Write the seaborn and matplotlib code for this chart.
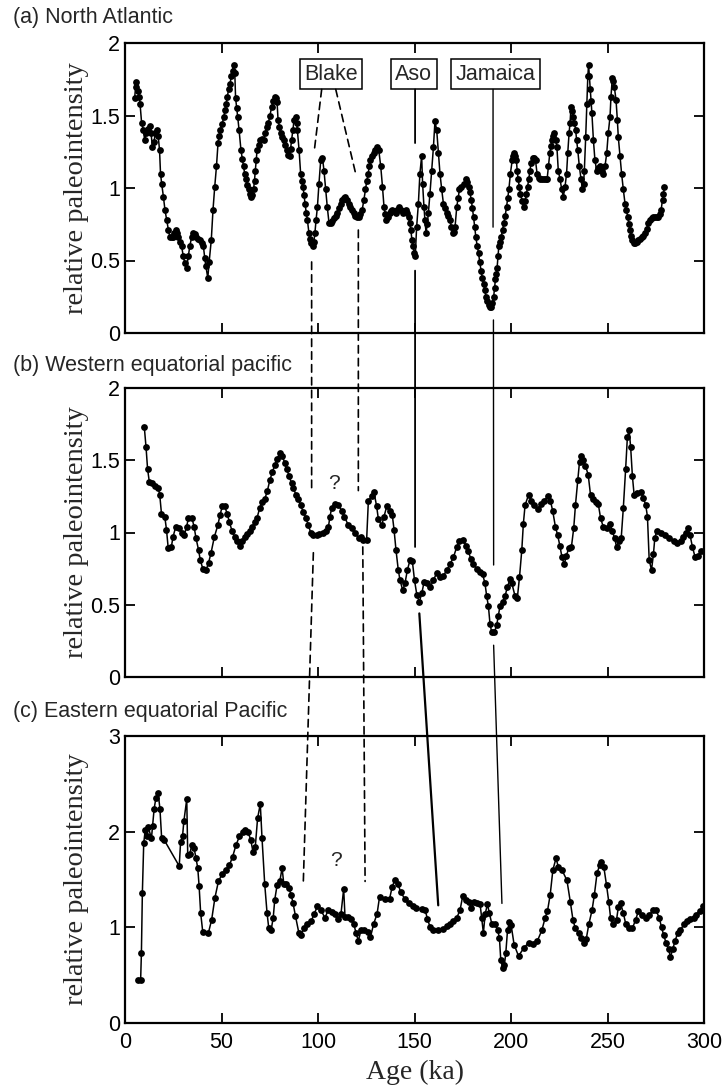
import numpy as np
import pandas as pd
import matplotlib
matplotlib.use("Agg")
import matplotlib.pyplot as plt
from matplotlib.patches import ConnectionPatch
import seaborn as sns

# ---------------- data ----------------
age_a = [5.0, 5.5, 5.9, 6.6, 7.3, 7.8, 8.6, 9.5, 10.2, 11.0, 11.9, 12.7, 13.5, 14.2, 15.0, 15.8, 16.5, 17.2, 17.9, 18.4,
         19.0, 19.9, 20.7, 21.6, 22.5, 23.3, 24.2, 25.0, 25.6, 26.2, 26.9, 27.6, 28.5, 29.3, 30.2, 31.0, 31.9, 32.8, 33.6, 34.5,
         35.4, 36.2, 37.0, 38.0, 38.9, 39.8, 40.6, 41.3, 41.9, 42.9, 43.6, 44.7, 45.6, 46.5, 47.4, 48.2, 48.8, 49.4, 50.3, 51.2,
         51.8, 52.4, 53.0, 53.7, 54.4, 55.1, 55.7, 56.3, 56.9, 57.3, 57.9, 58.4, 59.1, 60.1, 60.8, 61.4, 62.0, 62.7, 63.4, 64.0,
         64.7, 65.4, 66.0, 66.6, 67.1, 67.5, 68.0, 68.4, 69.3, 70.2, 71.0, 71.8, 72.7, 73.5, 74.3, 75.1, 76.0, 76.8, 77.7, 78.3,
         78.8, 79.3, 80.0, 80.6, 81.4, 82.3, 83.1, 84.0, 84.6, 85.3, 85.8, 86.3, 87.0, 87.6, 88.4, 88.9, 89.3, 90.2, 91.0, 91.6,
         92.2, 92.8, 93.3, 93.9, 94.5, 95.3, 95.9, 96.5, 97.4, 97.9, 98.4, 99.0, 99.7, 100.5, 101.4, 102.3, 103.1, 104.0, 104.8, 105.7,
         106.5, 107.4, 108.3, 109.1, 110.0, 110.8, 111.7, 112.5, 113.4, 114.2, 115.1, 116.0, 116.8, 117.7, 118.6, 119.4, 120.3, 121.2, 122.0, 122.9,
         123.8, 124.6, 125.3, 126.0, 126.6, 127.2, 128.0, 128.9, 129.7, 130.6, 131.5, 132.5, 133.4, 134.2, 134.8, 135.4, 136.3, 137.2, 138.0, 138.6,
         139.5, 140.3, 141.1, 142.0, 142.9, 143.8, 144.6, 145.5, 146.2, 146.9, 147.5, 148.1, 148.7, 149.3, 149.9, 150.4, 151.1, 152.0, 152.8, 153.7,
         154.2, 154.9, 155.4, 156.0, 156.6, 157.2, 158.0, 158.9, 159.8, 160.6, 161.5, 162.4, 163.2, 164.1, 165.0, 165.8, 166.7, 167.5, 168.4, 169.1,
         169.8, 170.4, 171.0, 171.9, 172.6, 173.3, 174.3, 175.4, 176.7, 177.4, 178.0, 178.7, 179.4, 180.0, 180.6, 181.2, 181.8, 182.5, 183.2, 183.8,
         184.5, 185.1, 185.8, 186.4, 187.0, 187.7, 188.4, 189.1, 189.8, 190.4, 191.0, 191.5, 191.9, 192.4, 192.8, 193.3, 193.7, 194.3, 194.9, 195.6,
         196.3, 197.0, 197.7, 198.3, 198.9, 199.7, 200.6, 201.2, 201.8, 202.3, 202.8, 203.2, 203.7, 204.3, 204.9, 205.8, 206.6, 207.3, 208.0, 208.6,
         209.2, 209.8, 210.4, 211.4, 212.1, 212.7, 213.5, 214.4, 215.2, 216.1, 217.0, 217.9, 218.7, 219.4, 220.1, 220.7, 221.3, 222.0, 222.5, 223.2,
         223.8, 224.5, 225.4, 226.3, 227.1, 228.0, 228.8, 229.4, 230.1, 230.6, 231.1, 231.7, 232.3, 232.9, 233.5, 234.0, 234.6, 235.4, 236.3, 237.0,
         237.6, 238.0, 238.7, 239.3, 239.8, 240.2, 240.6, 241.1, 241.5, 241.9, 242.7, 243.5, 244.4, 245.2, 246.1, 247.0, 247.8, 248.7, 249.6, 250.4,
         251.3, 251.8, 252.5, 253.0, 253.5, 254.4, 255.1, 255.6, 256.5, 257.3, 258.2, 259.1, 259.8, 260.5, 261.1, 261.7, 262.3, 262.9, 263.6, 264.3,
         265.1, 266.0, 266.9, 267.8, 268.6, 269.5, 270.3, 271.2, 272.1, 273.0, 273.8, 274.7, 275.5, 276.4, 277.1, 277.8, 278.5, 279.0, 279.5]
int_a = [1.62, 1.70, 1.73, 1.67, 1.63, 1.58, 1.45, 1.40, 1.33, 1.38, 1.41, 1.43, 1.38, 1.28, 1.32, 1.38, 1.40, 1.36, 1.26, 1.10,
         1.03, 0.94, 0.85, 0.78, 0.71, 0.66, 0.66, 0.66, 0.69, 0.71, 0.69, 0.66, 0.63, 0.60, 0.53, 0.48, 0.45, 0.53, 0.60, 0.66,
         0.69, 0.68, 0.66, 0.65, 0.64, 0.62, 0.60, 0.52, 0.46, 0.38, 0.49, 0.64, 0.85, 1.01, 1.15, 1.31, 1.36, 1.40, 1.44, 1.49,
         1.54, 1.58, 1.63, 1.68, 1.72, 1.77, 1.81, 1.85, 1.79, 1.62, 1.55, 1.49, 1.40, 1.26, 1.20, 1.15, 1.10, 1.06, 1.02, 0.99,
         0.96, 0.94, 0.95, 0.99, 1.05, 1.12, 1.19, 1.26, 1.30, 1.33, 1.34, 1.33, 1.38, 1.42, 1.45, 1.50, 1.56, 1.60, 1.63, 1.62,
         1.59, 1.47, 1.42, 1.38, 1.35, 1.33, 1.30, 1.26, 1.23, 1.22, 1.27, 1.33, 1.40, 1.47, 1.49, 1.45, 1.40, 1.26, 1.10, 1.05,
         1.01, 0.95, 0.89, 0.83, 0.78, 0.69, 0.65, 0.62, 0.60, 0.63, 0.69, 0.78, 0.87, 1.03, 1.19, 1.21, 1.12, 0.99, 0.87, 0.76,
         0.76, 0.77, 0.79, 0.81, 0.83, 0.86, 0.89, 0.92, 0.93, 0.94, 0.92, 0.89, 0.87, 0.85, 0.83, 0.81, 0.80, 0.80, 0.82, 0.85,
         0.92, 0.99, 1.05, 1.10, 1.15, 1.19, 1.22, 1.24, 1.26, 1.28, 1.26, 1.15, 1.01, 0.87, 0.82, 0.78, 0.80, 0.83, 0.84, 0.85,
         0.84, 0.83, 0.85, 0.87, 0.85, 0.83, 0.84, 0.85, 0.83, 0.80, 0.76, 0.71, 0.64, 0.60, 0.55, 0.53, 0.73, 0.89, 1.10, 1.22,
         1.03, 0.87, 0.78, 0.69, 0.75, 0.83, 0.96, 1.12, 1.28, 1.46, 1.40, 1.24, 1.10, 0.99, 0.89, 0.86, 0.83, 0.81, 0.78, 0.73,
         0.69, 0.70, 0.73, 0.87, 0.93, 0.99, 1.01, 1.03, 1.06, 1.04, 1.01, 0.97, 0.92, 0.86, 0.80, 0.73, 0.66, 0.60, 0.55, 0.49,
         0.43, 0.38, 0.34, 0.30, 0.25, 0.22, 0.19, 0.18, 0.18, 0.21, 0.25, 0.31, 0.37, 0.41, 0.45, 0.53, 0.60, 0.63, 0.66, 0.71,
         0.76, 0.81, 0.87, 0.93, 0.99, 1.10, 1.19, 1.22, 1.24, 1.22, 1.19, 1.12, 1.06, 1.01, 0.96, 0.91, 0.87, 0.91, 0.96, 1.01,
         1.06, 1.12, 1.17, 1.21, 1.21, 1.19, 1.10, 1.07, 1.06, 1.06, 1.06, 1.06, 1.06, 1.15, 1.24, 1.29, 1.33, 1.36, 1.38, 1.33,
         1.28, 1.12, 1.06, 0.99, 0.94, 1.01, 1.10, 1.24, 1.38, 1.45, 1.56, 1.53, 1.49, 1.45, 1.40, 1.33, 1.26, 1.15, 1.06, 0.99,
         1.03, 1.12, 1.35, 1.58, 1.77, 1.85, 1.77, 1.68, 1.60, 1.52, 1.33, 1.19, 1.12, 1.14, 1.15, 1.12, 1.10, 1.15, 1.24, 1.38,
         1.49, 1.63, 1.76, 1.74, 1.70, 1.61, 1.47, 1.35, 1.22, 1.10, 0.99, 0.89, 0.85, 0.80, 0.75, 0.71, 0.67, 0.64, 0.62, 0.62,
         0.63, 0.64, 0.65, 0.66, 0.67, 0.69, 0.72, 0.76, 0.78, 0.79, 0.80, 0.80, 0.80, 0.80, 0.82, 0.85, 0.92, 0.96, 1.01]

age_b = [10.0, 10.9, 11.7, 12.6, 13.8, 15.5, 17.2, 18.0, 18.9, 20.6, 21.5, 22.4, 24.0, 24.9, 26.3, 27.8, 29.5, 30.7, 31.9, 32.9,
         34.7, 35.8, 36.8, 38.1, 39.0, 40.3, 42.0, 43.3, 44.6, 46.3, 48.1, 49.2, 50.4, 51.6, 53.0, 54.1, 55.5, 56.8, 58.0, 59.4,
         60.8, 62.0, 63.3, 64.6, 66.0, 67.2, 68.4, 69.8, 71.2, 72.4, 73.8, 75.0, 76.4, 77.7, 78.8, 80.3, 81.6, 82.8, 83.7, 85.1,
         86.3, 87.2, 88.6, 89.8, 91.0, 92.4, 93.8, 95.0, 96.2, 97.6, 99.3, 100.7, 102.4, 104.1, 105.4, 106.2, 107.1, 108.8, 110.6, 112.3,
         113.7, 115.7, 117.5, 119.2, 121.0, 122.3, 123.5, 125.2, 126.1, 127.8, 129.0, 130.4, 131.3, 133.0, 134.2, 135.6, 137.3, 138.5, 139.4, 140.4,
         141.6, 142.5, 143.9, 145.1, 146.3, 147.7, 148.9, 150.0, 151.2, 152.5, 153.8, 155.0, 156.3, 158.1, 159.8, 161.5, 163.3, 165.0, 166.7, 168.4,
         170.2, 171.9, 173.3, 175.0, 176.7, 177.9, 179.1, 180.5, 182.2, 183.9, 185.3, 186.5, 187.4, 188.3, 189.1, 190.0, 191.4, 192.6, 193.4, 194.3,
         195.7, 196.9, 198.1, 199.5, 200.4, 202.1, 203.3, 204.4, 205.6, 206.4, 207.3, 209.1, 210.5, 212.0, 213.9, 215.5, 217.2, 219.0, 220.4, 221.6,
         223.0, 224.2, 225.3, 226.4, 227.6, 228.7, 229.9, 231.3, 232.5, 233.4, 234.6, 235.5, 236.4, 237.4, 238.6, 240.0, 241.2, 242.4, 243.8, 245.2,
         246.4, 247.8, 249.5, 251.3, 252.5, 253.7, 254.7, 255.9, 257.1, 258.2, 259.4, 260.3, 261.2, 262.0, 262.9, 263.8, 265.5, 267.2, 268.6, 269.8,
         270.7, 271.6, 272.8, 273.8, 274.5, 275.5, 277.6, 279.7, 281.9, 284.2, 286.2, 287.9, 289.3, 290.5, 291.7, 292.8, 294.0, 295.4, 297.0, 298.4,
         300.0]
int_b = [1.73, 1.59, 1.44, 1.35, 1.34, 1.32, 1.31, 1.26, 1.13, 1.11, 1.02, 0.89, 0.90, 0.97, 1.04, 1.03, 1.00, 0.98, 1.04, 1.10,
         1.10, 1.04, 0.96, 0.88, 0.81, 0.75, 0.74, 0.79, 0.86, 0.97, 1.05, 1.12, 1.18, 1.18, 1.13, 1.07, 1.01, 0.97, 0.94, 0.91,
         0.94, 0.97, 0.99, 1.01, 1.04, 1.07, 1.10, 1.17, 1.21, 1.23, 1.29, 1.36, 1.42, 1.47, 1.51, 1.55, 1.53, 1.48, 1.44, 1.39,
         1.34, 1.31, 1.26, 1.23, 1.19, 1.14, 1.10, 1.05, 1.00, 0.98, 0.98, 0.99, 1.00, 1.01, 1.04, 1.11, 1.17, 1.20, 1.19, 1.15,
         1.11, 1.05, 1.03, 1.00, 0.96, 0.97, 0.95, 0.95, 1.22, 1.25, 1.28, 1.18, 1.09, 1.05, 1.11, 1.18, 1.15, 1.12, 1.02, 0.88,
         0.74, 0.67, 0.60, 0.65, 0.74, 0.81, 0.80, 0.67, 0.57, 0.52, 0.58, 0.66, 0.65, 0.62, 0.67, 0.72, 0.69, 0.70, 0.74, 0.78,
         0.83, 0.90, 0.94, 0.95, 0.91, 0.87, 0.82, 0.78, 0.75, 0.73, 0.71, 0.65, 0.56, 0.49, 0.37, 0.31, 0.31, 0.36, 0.42, 0.49,
         0.52, 0.56, 0.62, 0.68, 0.65, 0.56, 0.55, 0.69, 0.88, 1.06, 1.19, 1.26, 1.22, 1.19, 1.16, 1.20, 1.22, 1.25, 1.22, 1.15,
         1.04, 0.98, 0.91, 0.83, 0.78, 0.84, 0.89, 0.90, 1.03, 1.19, 1.36, 1.49, 1.53, 1.50, 1.46, 1.40, 1.26, 1.23, 1.21, 1.20,
         1.10, 1.04, 1.03, 1.06, 1.01, 0.96, 0.90, 0.94, 0.96, 1.17, 1.44, 1.66, 1.71, 1.59, 1.39, 1.26, 1.27, 1.28, 1.24, 1.19,
         1.11, 0.81, 0.74, 0.85, 0.96, 1.01, 1.00, 0.98, 0.96, 0.94, 0.93, 0.94, 0.97, 1.00, 1.03, 0.98, 0.90, 0.83, 0.84, 0.87,
         0.87]

age_c = [6.9, 8.1, 8.5, 9.0, 9.7, 10.5, 11.4, 12.0, 13.7, 14.3, 15.1, 16.0, 17.2, 18.1, 19.0, 20.4, 28.1, 28.8, 29.8, 30.5,
         32.0, 32.5, 33.7, 34.5, 35.8, 36.8, 37.7, 38.4, 39.2, 40.3, 43.2, 44.9, 46.6, 48.4, 50.4, 52.3, 54.1, 55.8, 57.5, 59.3,
         61.0, 62.3, 63.7, 65.2, 66.3, 67.5, 68.7, 70.1, 71.0, 72.4, 73.6, 74.5, 75.7, 76.8, 77.6, 78.8, 80.2, 81.4, 82.3, 83.5,
         84.9, 86.1, 87.1, 88.3, 90.1, 91.3, 92.7, 94.5, 96.6, 98.0, 99.7, 101.5, 103.6, 105.3, 107.1, 108.8, 110.2, 111.9, 113.3, 114.0,
         115.4, 117.1, 118.5, 119.7, 120.9, 122.3, 124.0, 125.8, 127.2, 128.9, 130.6, 131.9, 134.5, 137.1, 138.4, 139.7, 141.5, 142.8, 144.9, 147.0,
         149.2, 151.0, 153.7, 155.5, 156.7, 158.1, 159.8, 162.4, 165.0, 166.7, 168.4, 170.2, 171.9, 173.6, 175.0, 176.7, 178.4, 179.5, 180.9, 182.2,
         184.0, 184.8, 185.7, 186.6, 187.8, 188.8, 190.0, 191.8, 193.1, 194.0, 194.7, 195.8, 196.6, 197.3, 198.2, 199.2, 200.1, 201.6, 203.9, 206.5,
         209.1, 211.3, 213.7, 216.0, 217.7, 218.9, 220.3, 221.7, 223.3, 224.6, 226.4, 229.0, 230.7, 232.1, 233.3, 235.1, 236.3, 237.7, 239.0, 240.3,
         242.0, 243.2, 244.6, 246.0, 246.7, 248.1, 249.5, 250.7, 251.6, 252.9, 254.7, 255.6, 256.8, 258.2, 259.4, 261.1, 262.9, 264.6, 266.0, 267.8,
         269.8, 271.6, 273.8, 275.1, 276.8, 278.0, 279.1, 280.3, 281.7, 282.6, 283.8, 285.0, 286.4, 287.8, 289.5, 291.2, 293.0, 294.7, 295.9, 297.7,
         299.4]
int_c = [0.45, 0.45, 0.73, 1.36, 1.88, 2.02, 1.95, 2.05, 1.93, 2.06, 2.24, 2.35, 2.40, 2.24, 1.93, 1.91, 1.64, 1.89, 1.95, 2.11,
         2.34, 1.76, 1.77, 1.86, 1.83, 1.72, 1.62, 1.43, 1.15, 0.95, 0.94, 1.08, 1.31, 1.48, 1.56, 1.60, 1.65, 1.74, 1.86, 1.95,
         2.00, 2.02, 2.00, 1.91, 1.79, 1.84, 2.14, 2.29, 1.93, 1.45, 1.15, 0.99, 0.97, 1.10, 1.29, 1.44, 1.48, 1.62, 1.45, 1.45,
         1.41, 1.34, 1.25, 1.12, 0.94, 0.92, 0.99, 1.04, 1.07, 1.14, 1.22, 1.18, 1.10, 1.18, 1.16, 1.14, 1.09, 1.14, 1.40, 1.11,
         1.11, 1.09, 1.04, 0.94, 0.86, 0.97, 0.97, 0.95, 0.90, 1.04, 1.14, 1.32, 1.30, 1.30, 1.42, 1.49, 1.45, 1.37, 1.30, 1.25,
         1.22, 1.20, 1.19, 1.18, 1.09, 1.00, 0.97, 0.97, 0.98, 1.01, 1.04, 1.07, 1.10, 1.18, 1.33, 1.29, 1.27, 1.20, 1.27, 1.25,
         1.24, 1.10, 0.94, 1.14, 1.24, 1.15, 1.04, 1.04, 0.97, 0.89, 0.66, 0.57, 0.61, 0.73, 0.97, 1.06, 1.02, 0.82, 0.70, 0.78,
         0.84, 0.83, 0.86, 0.97, 1.10, 1.17, 1.34, 1.60, 1.72, 1.63, 1.60, 1.49, 1.27, 1.08, 0.99, 0.94, 0.89, 0.84, 0.88, 1.03,
         1.18, 1.34, 1.57, 1.65, 1.68, 1.63, 1.44, 1.26, 1.10, 1.03, 1.08, 1.21, 1.25, 1.15, 1.04, 0.99, 0.99, 1.08, 1.17, 1.13,
         1.10, 1.13, 1.18, 1.18, 1.10, 1.00, 0.92, 0.84, 0.77, 0.69, 0.77, 0.86, 0.94, 0.97, 1.03, 1.07, 1.09, 1.10, 1.13, 1.17,
         1.22]

panel_titles = ["(a) North Atlantic", "(b) Western equatorial pacific", "(c) Eastern equatorial Pacific"]
x_ticks = [0, 50, 100, 150, 200, 250, 300]
x_ticklabels = ["0", "50", "100", "150", "200", "250", "300"]
y_ticks_ab = [0, 0.5, 1, 1.5, 2]
y_ticklabels_ab = ["0", "0.5", "1", "1.5", "2"]
y_ticks_c = [0, 1, 2, 3]
y_ticklabels_c = ["0", "1", "2", "3"]
event_names = ["Blake", "Aso", "Jamaica"]
event_label_ages = [106.6, 149.7, 192.0]

# ---------------- style ----------------
sns.set_style("ticks")
plt.rcParams["font.family"] = ["Liberation Sans", "DejaVu Sans"]
SERIF = ["Liberation Serif", "DejaVu Serif"]

W, H = 725, 1091
fig = plt.figure(figsize=(W / 100, H / 100), dpi=100)

def fx(px):
    return px / W

def fy(py):
    return 1 - py / H

left, right = 125, 704
panels_px = [(43, 333), (388, 677), (736, 1023)]
axes = []
for (top, bot) in panels_px:
    ax = fig.add_axes([fx(left), fy(bot), fx(right) - fx(left), fy(top) - fy(bot)])
    axes.append(ax)

datasets = [(age_a, int_a, 2), (age_b, int_b, 2), (age_c, int_c, 3)]
for i, (ax, (ag, iv, ymax)) in enumerate(zip(axes, datasets)):
    df = pd.DataFrame({"age": ag, "val": iv})
    sns.lineplot(data=df, x="age", y="val", ax=ax, color="black", linewidth=1.1,
                 marker="o", markersize=4.9, markeredgewidth=0, markeredgecolor="black",
                 estimator=None, sort=False, zorder=3)
    ax.set_xlim(0, 300)
    ax.set_ylim(0, ymax)
    ax.set_xticks(x_ticks)
    if i == 2:
        ax.set_yticks(y_ticks_c)
        ax.set_yticklabels(y_ticklabels_c)
        ax.set_xticklabels(x_ticklabels)
        ax.set_xlabel("Age (ka)", family=SERIF, fontsize=20, labelpad=5)
    else:
        ax.set_yticks(y_ticks_ab)
        ax.set_yticklabels(y_ticklabels_ab)
        ax.set_xticklabels([])
        ax.set_xlabel("")
    ax.set_ylabel("relative paleointensity", family=SERIF, fontsize=20.5)
    ax.yaxis.set_label_coords(-0.062, 0.5)
    ax.tick_params(direction="in", length=7, width=1.3, top=True, right=True,
                   labelsize=15.5, pad=3.5, colors="black")
    ax.tick_params(axis="x", pad=6.5)
    for s in ax.spines.values():
        s.set_linewidth(1.6)
        s.set_color("black")
        s.set_visible(True)
    fig.text(fx(13), fy([18, 365, 712][i]), panel_titles[i], ha="left", va="center", fontsize=15.5)

axA, axB, axC = axes

# event labels
for name, ag in zip(event_names, event_label_ages):
    axA.text(ag, 1.785, name, ha="center", va="center", fontsize=15.5, zorder=6,
             bbox=dict(boxstyle="square,pad=0.2", fc="white", ec="black", lw=1.1))

# question marks
axB.text(108.3, 1.34, "?", ha="center", va="center", fontsize=15)
axC.text(109.3, 1.70, "?", ha="center", va="center", fontsize=15)

# correlation lines: (axis, age, value) -> (axis, age, value)
dash = (0, (4.5, 3.2))
links = [
    (axA, (101.9, 1.68), axA, (98.1, 1.26), dash, 1.2),
    (axA, (96.7, 0.49), axB, (96.7, 1.31), dash, 1.2),
    (axB, (97.6, 0.86), axC, (92.4, 1.48), dash, 1.2),
    (axA, (109.2, 1.68), axA, (119.5, 1.10), dash, 1.2),
    (axA, (120.9, 0.71), axB, (120.9, 1.29), dash, 1.2),
    (axB, (123.2, 0.90), axC, (124.4, 1.48), dash, 1.2),
    (axA, (150.3, 1.68), axA, (150.3, 1.31), "-", 1.3),
    (axA, (150.3, 0.43), axB, (150.3, 0.90), "-", 1.3),
    (axB, (152.5, 0.44), axC, (162.3, 1.23), "-", 1.6),
    (axA, (190.7, 1.68), axA, (190.7, 0.73), "-", 1.0),
    (axA, (190.9, 0.09), axB, (191.0, 0.775), "-", 1.0),
    (axB, (191.0, 0.22), axC, (195.3, 1.25), "-", 1.0),
]
for a1, p1, a2, p2, ls, lw in links:
    con = ConnectionPatch(xyA=p1, coordsA=a1.transData, xyB=p2, coordsB=a2.transData,
                          color="black", linewidth=lw, linestyle=ls, zorder=5)
    fig.add_artist(con)

fig.savefig("out.png", dpi=100)
